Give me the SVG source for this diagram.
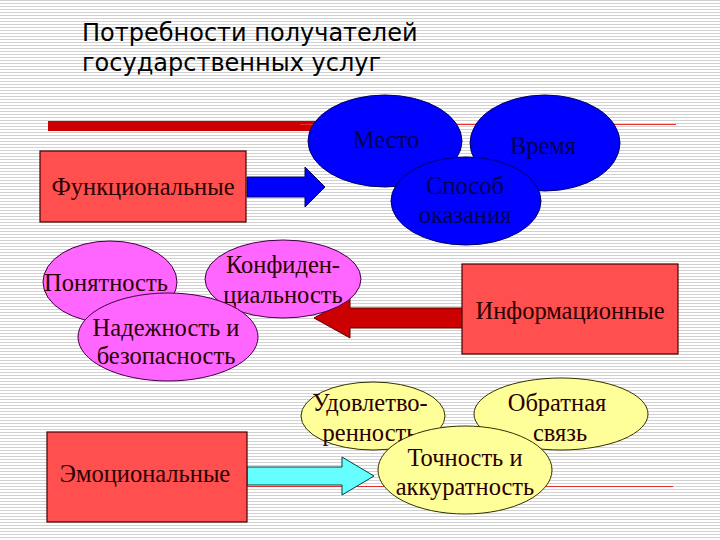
<svg xmlns="http://www.w3.org/2000/svg" width="720" height="540" viewBox="0 0 720 540">
<defs>
<pattern id="lines" width="8" height="3" patternUnits="userSpaceOnUse">
<rect width="8" height="3" fill="#ffffff"/>
<rect y="0" width="8" height="1" fill="#d2d2d2"/>
</pattern>
<style>
.title{font-family:"DejaVu Sans",sans-serif;font-size:24px;fill:#000}
.lbl{font-family:"Liberation Serif",serif;font-size:24.5px;text-anchor:middle}
.box{fill:#ff4f4f;stroke:#4a0000;stroke-width:1.2}
.blue{fill:#0000ff;stroke:#000060;stroke-width:1}
.pink{fill:#ff66ff;stroke:#400040;stroke-width:1}
.yel{fill:#ffff99;stroke:#303000;stroke-width:1}
.dark{fill:#2a0000}
.navy{fill:#000050}
</style>
</defs>
<rect width="720" height="540" fill="url(#lines)"/>
<text class="title" x="82" y="41">Потребности получателей</text>
<text class="title" x="82" y="71">государственных услуг</text>

<g id="connectors">
<rect x="48" y="121" width="268" height="10" fill="#cc0000"/>
<line x1="300" y1="124.5" x2="676" y2="124.5" stroke="#e03030" stroke-width="1.2"/>
<line x1="247" y1="486.5" x2="673" y2="486.5" stroke="#e03030" stroke-width="1.2"/>
<polygon points="247,177 305,177 305,167 325,187 305,207 305,197 247,197" fill="#0000ff" stroke="#000060" stroke-width="1"/>
<polygon points="462,308 350,308 350,298 314,318 350,338 350,328 462,328" fill="#cc0000" stroke="#600000" stroke-width="1"/>
<polygon points="247,467 342,467 342,457 374,476 342,495 342,485 247,485" fill="#66ffff" stroke="#004040" stroke-width="1"/>
</g>

<g id="functional">
<rect class="box" x="40" y="151" width="206" height="71"/>
<text class="lbl dark" x="143" y="195">Функциональные</text>
</g>
<g id="mesto">
<ellipse class="blue" cx="385" cy="141" rx="77" ry="46"/>
<text class="lbl navy" x="386" y="148">Место</text>
</g>
<g id="vremya">
<ellipse class="blue" cx="545" cy="143" rx="75" ry="48"/>
<text class="lbl navy" x="543" y="154">Время</text>
</g>
<g id="sposob">
<ellipse class="blue" cx="466" cy="201" rx="75" ry="44"/>
<text class="lbl navy" x="465" y="194">Способ</text>
<text class="lbl navy" x="465" y="223">оказания</text>
</g>

<g id="ponyatnost">
<ellipse class="pink" cx="110" cy="282" rx="67" ry="41"/>
<text class="lbl dark" x="106" y="291">Понятность</text>
</g>
<g id="konfid">
<ellipse class="pink" cx="283" cy="279" rx="78" ry="39"/>
<text class="lbl dark" x="283" y="273">Конфиден-</text>
<text class="lbl dark" x="283" y="303">циальность</text>
</g>
<g id="nadezhnost">
<ellipse class="pink" cx="168" cy="337" rx="90" ry="44"/>
<text class="lbl dark" x="166" y="336">Надежность и</text>
<text class="lbl dark" x="166" y="364">безопасность</text>
</g>
<g id="informational">
<rect class="box" x="462" y="264" width="216" height="90"/>
<text class="lbl dark" x="570" y="319">Информационные</text>
</g>

<g id="udovl">
<ellipse class="yel" cx="373" cy="416" rx="72" ry="34"/>
<text class="lbl dark" x="370" y="411">Удовлетво-</text>
<text class="lbl dark" x="370" y="441">ренность</text>
</g>
<g id="obratnaya">
<ellipse class="yel" cx="561" cy="414" rx="87" ry="36"/>
<text class="lbl dark" x="557" y="411">Обратная</text>
<text class="lbl dark" x="560" y="441">связь</text>
</g>
<g id="tochnost">
<ellipse class="yel" cx="465" cy="470" rx="87" ry="44"/>
<text class="lbl dark" x="465" y="466">Точность и</text>
<text class="lbl dark" x="465" y="495">аккуратность</text>
</g>
<g id="emotional">
<rect class="box" x="47" y="432" width="200" height="90"/>
<text class="lbl dark" x="145" y="482">Эмоциональные</text>
</g>
</svg>
